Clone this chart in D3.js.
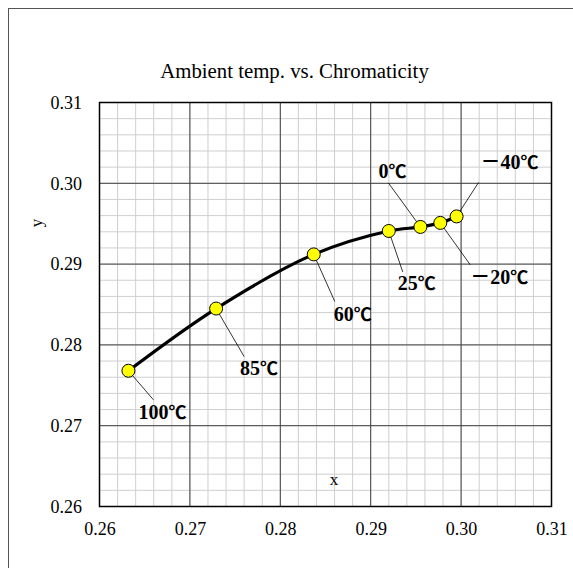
<!DOCTYPE html>
<html>
<head>
<meta charset="utf-8">
<script src="https://cdn.jsdelivr.net/npm/d3@7"></script>
<style>
  body { margin: 0; background: #fff; }
  text { font-family: "Liberation Serif", "Times New Roman", serif; }
</style>
</head>
<body>
<div id="wrapper"></div>
<script>
//Data
const tempValues = ["100", "85", "60", "25", "0", "－20", "－40"];
const xValues = [0.2632, 0.2729, 0.2837, 0.2920, 0.2955, 0.2977, 0.2995];
const yValues = [0.2768, 0.2845, 0.2912, 0.2941, 0.2946, 0.2951, 0.2959];
const xTicks = [0.26, 0.27, 0.28, 0.29, 0.30, 0.31];
const yTicks = [0.26, 0.27, 0.28, 0.29, 0.30, 0.31];

//Label placement (pixel offsets from the point): text start and end of leader line
const labelOffsets = [
    {tx: 10, ty: 48, lx: 25, ly: 29},
    {tx: 24, ty: 66, lx: 28, ly: 48},
    {tx: 20, ty: 67, lx: 21, ly: 47},
    {tx: 9, ty: 59, lx: 14, ly: 41},
    {tx: -42, ty: -49, lx: -32, ly: -44},
    {tx: 30, ty: 61, lx: 30, ly: 42},
    {tx: 24, ty: -47, lx: 22, ly: -34}
];

const data = tempValues.map((t, i) => ({label: t, x: xValues[i], y: yValues[i], off: labelOffsets[i]}));

const dimension = {
    width: 573,
    height: 568,
    margin: {top: 102.5, left: 99.5, bottom: 61.5, right: 21.5}
};
dimension.boundedWidth = dimension.width - dimension.margin.left - dimension.margin.right;
dimension.boundedHeight = dimension.height - dimension.margin.top - dimension.margin.bottom;

const svg = d3.select("#wrapper").append("svg")
    .attr("width", dimension.width)
    .attr("height", dimension.height);

//outer chart frame (right and bottom edges are cut off in the picture)
svg.append("rect")
    .attr("x", 8.5).attr("y", 8.5)
    .attr("width", 620).attr("height", 620)
    .attr("fill", "#fff")
    .attr("stroke", "#555").attr("stroke-width", 1);

const bounded = svg.append("g")
    .attr("transform", `translate(${dimension.margin.left},${dimension.margin.top})`);

const xScaler = d3.scaleLinear().domain([0.26, 0.31]).range([0, dimension.boundedWidth]);
const yScaler = d3.scaleLinear().domain([0.26, 0.31]).range([dimension.boundedHeight, 0]);

//minor grid, 5 per major
const minorX = d3.range(0, 26).map(i => 0.26 + i * 0.002);
const minorY = d3.range(0, 26).map(i => 0.26 + i * 0.002);

bounded.append("g").selectAll("line").data(minorX).join("line")
    .attr("x1", d => xScaler(d)).attr("x2", d => xScaler(d))
    .attr("y1", 0).attr("y2", dimension.boundedHeight)
    .attr("stroke", "#cfcfcf").attr("stroke-width", 1);
bounded.append("g").selectAll("line").data(minorY).join("line")
    .attr("y1", d => yScaler(d)).attr("y2", d => yScaler(d))
    .attr("x1", 0).attr("x2", dimension.boundedWidth)
    .attr("stroke", "#cfcfcf").attr("stroke-width", 1);

//major grid
bounded.append("g").selectAll("line").data(xTicks).join("line")
    .attr("x1", d => xScaler(d)).attr("x2", d => xScaler(d))
    .attr("y1", 0).attr("y2", dimension.boundedHeight)
    .attr("stroke", "#404040").attr("stroke-width", 1);
bounded.append("g").selectAll("line").data(yTicks).join("line")
    .attr("y1", d => yScaler(d)).attr("y2", d => yScaler(d))
    .attr("x1", 0).attr("x2", dimension.boundedWidth)
    .attr("stroke", "#404040").attr("stroke-width", 1);

//plot border
bounded.append("rect")
    .attr("width", dimension.boundedWidth).attr("height", dimension.boundedHeight)
    .attr("fill", "none").attr("stroke", "#000").attr("stroke-width", 1.5);

//axes (labels only, Excel style)
const xAxis = bounded.append("g")
    .attr("transform", `translate(0,${dimension.boundedHeight})`)
    .call(d3.axisBottom(xScaler).tickValues(xTicks).tickFormat(d3.format(".2f")).tickSize(0).tickPadding(15.5));
xAxis.select(".domain").remove();
xAxis.selectAll("text").attr("font-size", 18).attr("fill", "#000")
    .style("font-family", "'Liberation Serif', serif");

const yAxis = bounded.append("g")
    .call(d3.axisLeft(yScaler).tickValues(yTicks).tickFormat(d3.format(".2f")).tickSize(0).tickPadding(17.5));
yAxis.select(".domain").remove();
yAxis.selectAll("text").attr("font-size", 18).attr("fill", "#000")
    .style("font-family", "'Liberation Serif', serif");

//title and axis titles
svg.append("text")
    .attr("x", 294.5).attr("y", 78)
    .attr("text-anchor", "middle")
    .attr("font-size", 20.8)
    .text("Ambient temp. vs. Chromaticity");

svg.append("text")
    .attr("transform", "translate(42,223) rotate(-90)")
    .attr("text-anchor", "middle")
    .attr("font-size", 17)
    .text("y");

svg.append("text")
    .attr("x", 334).attr("y", 485)
    .attr("text-anchor", "middle")
    .attr("font-size", 17)
    .text("x");

//smoothed line
const sorted = data.slice().sort((a, b) => a.x - b.x);
const lineGenerator = d3.line()
    .x(d => xScaler(d.x))
    .y(d => yScaler(d.y))
    .curve(d3.curveCatmullRom.alpha(0.5));

bounded.append("path")
    .attr("d", lineGenerator(sorted))
    .attr("fill", "none")
    .attr("stroke", "#000")
    .attr("stroke-width", 3.2);

//leader lines
bounded.append("g").selectAll("line").data(data).join("line")
    .attr("x1", d => xScaler(d.x)).attr("y1", d => yScaler(d.y))
    .attr("x2", d => xScaler(d.x) + d.off.lx).attr("y2", d => yScaler(d.y) + d.off.ly)
    .attr("stroke", "#000").attr("stroke-width", 0.8);

//points
bounded.append("g").selectAll("circle").data(data).join("circle")
    .attr("cx", d => xScaler(d.x)).attr("cy", d => yScaler(d.y))
    .attr("r", 6.5)
    .attr("fill", "#ffff00")
    .attr("stroke", "#000").attr("stroke-width", 1);

//temperature labels: number + ℃ sign
const labels = bounded.append("g").selectAll("text").data(data).join("text")
    .attr("x", d => xScaler(d.x) + d.off.tx).attr("y", d => yScaler(d.y) + d.off.ty)
    .attr("font-size", 20)
    .attr("font-weight", "bold")
    .style("font-family", "'Liberation Serif', 'Noto Sans CJK JP', serif");
labels.append("tspan").text(d => d.label);
labels.append("tspan")
    .attr("font-size", 18)
    .style("font-family", "'Noto Sans CJK JP', serif")
    .text("℃");
</script>
</body>
</html>
